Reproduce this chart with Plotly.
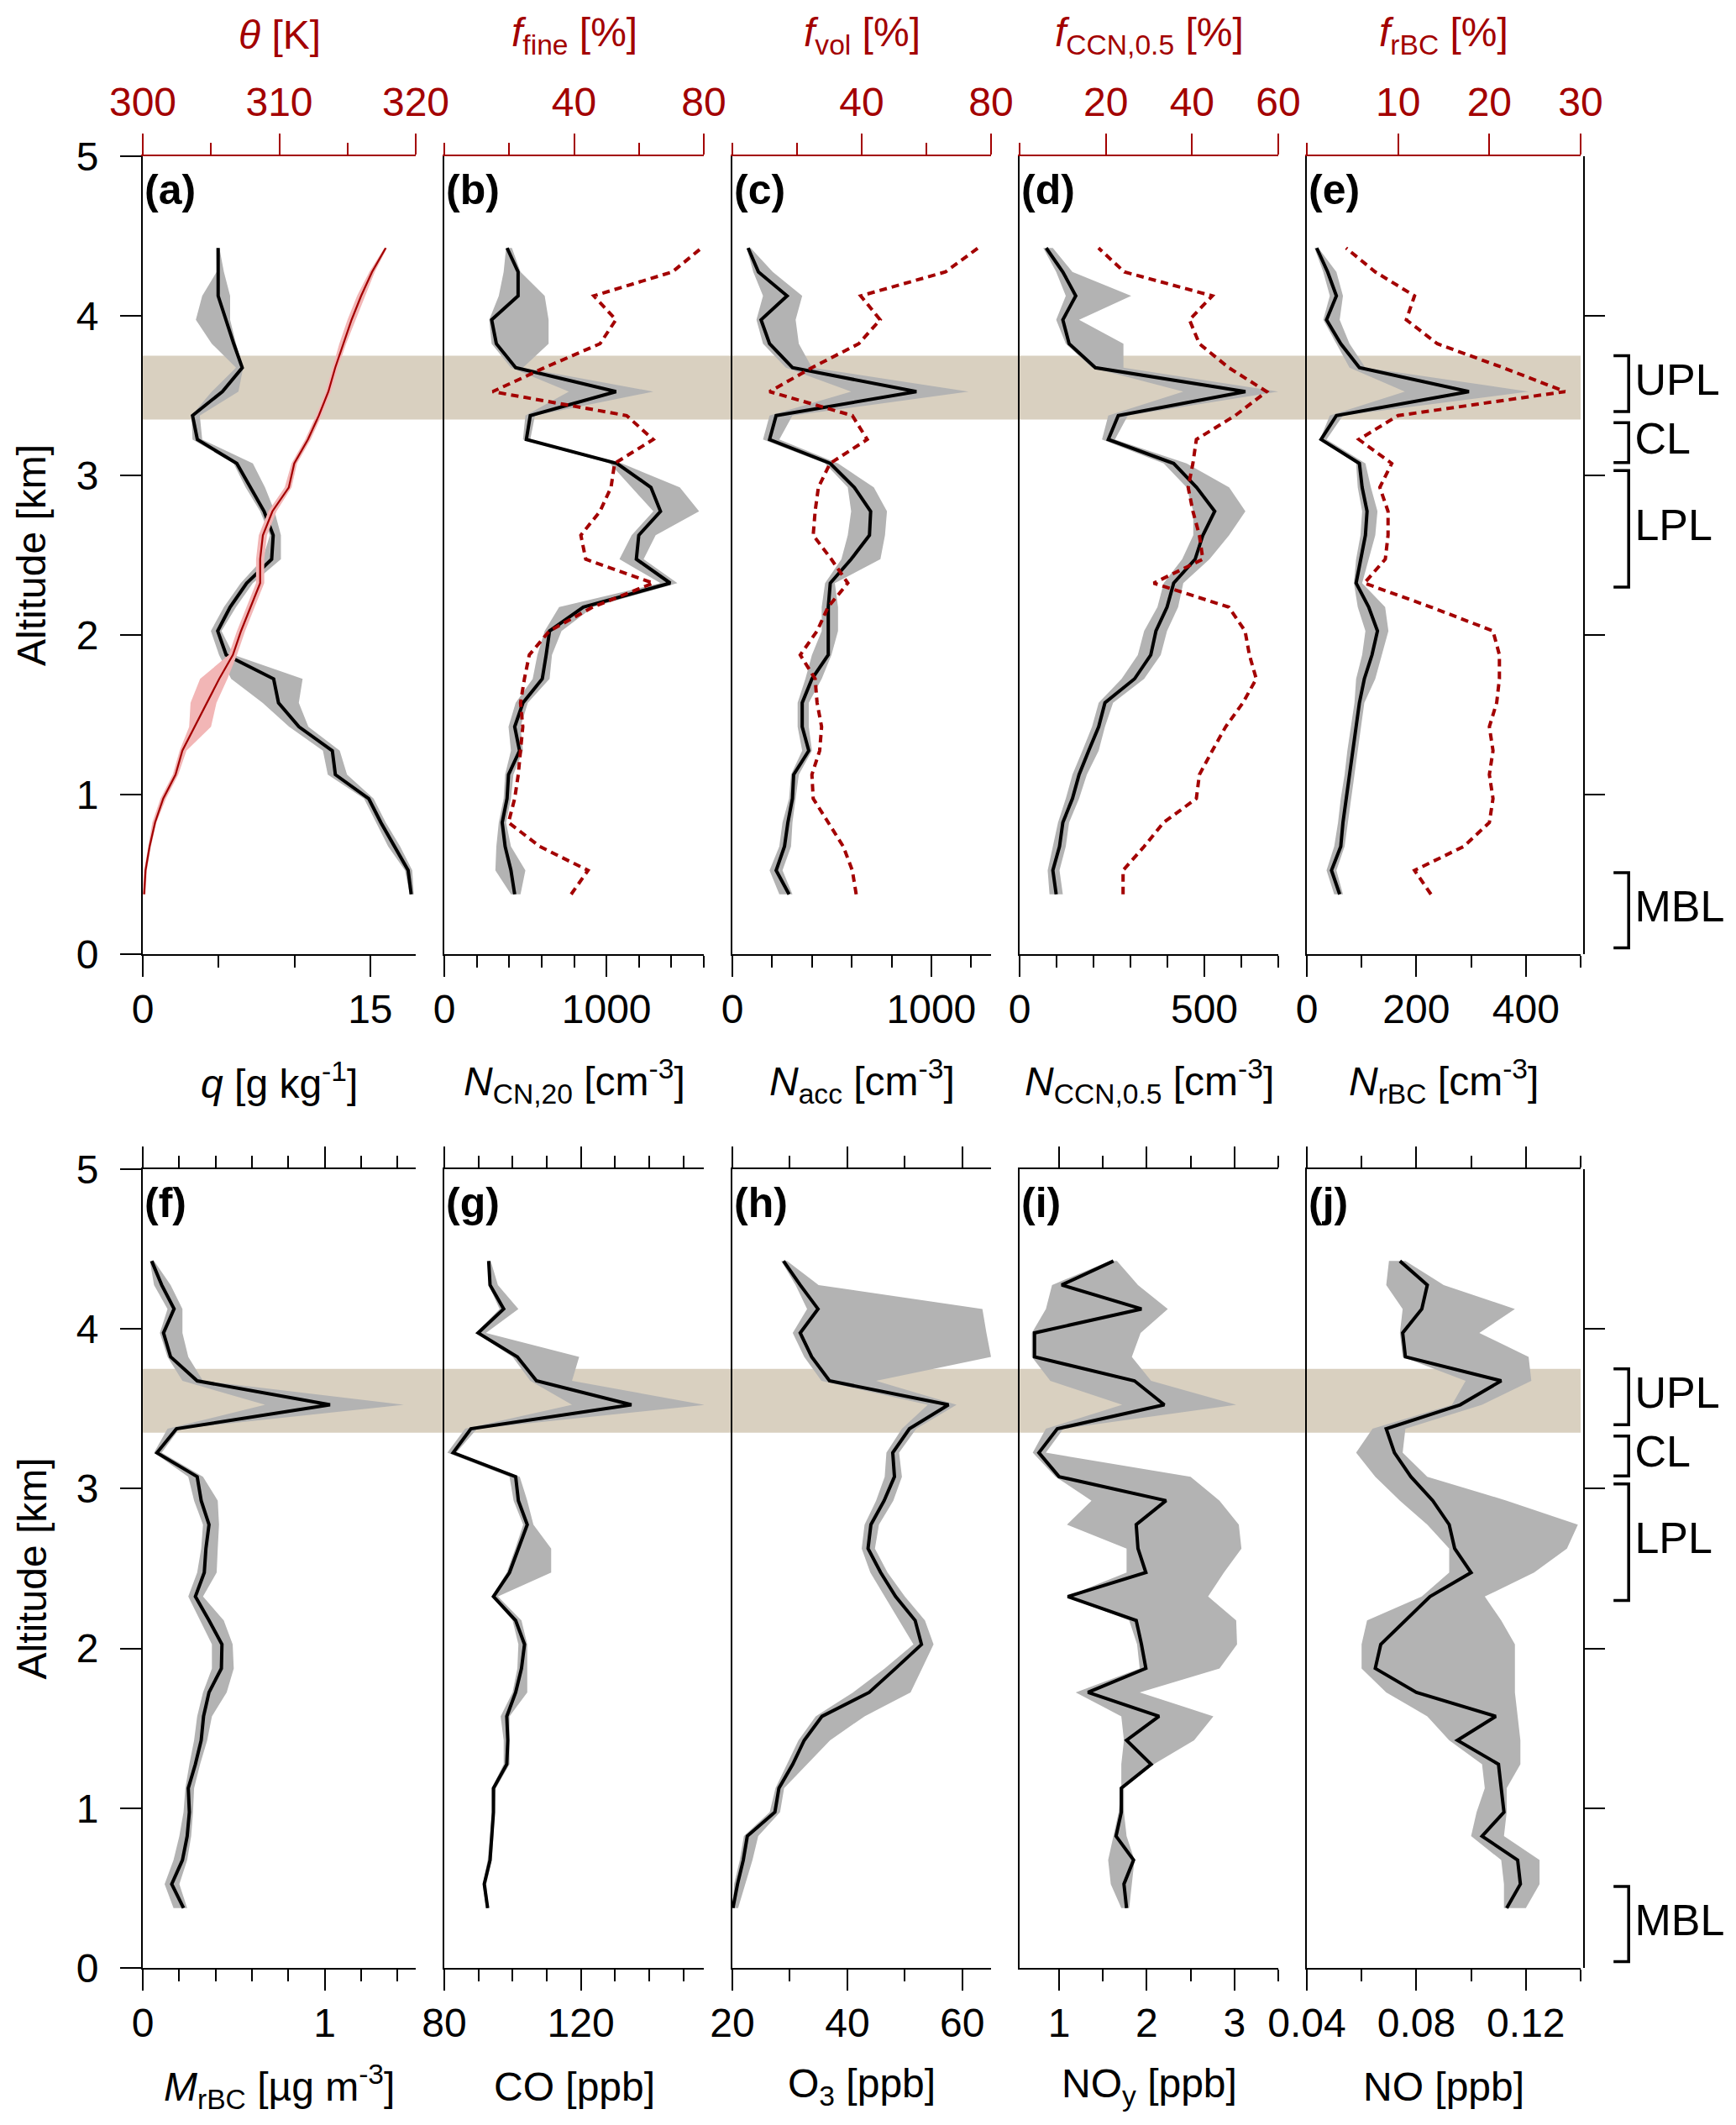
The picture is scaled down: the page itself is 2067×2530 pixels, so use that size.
import plotly.graph_objects as go

PAGE_W, PAGE_H = 2067, 2530
BODY = 8  # default page margin around the plot div
FIG_W, FIG_H = PAGE_W - BODY, PAGE_H - BODY
RED = "#a30000"
GREY = "#b3b3b3"
TAN = "#d9d0c0"
PINK = "#f2b6b6"
FONT = "Liberation Sans, Arial, sans-serif"

# altitude levels [km], bottom to top
ALT = [0.375, 0.525, 0.675, 0.825, 0.975, 1.125, 1.275, 1.425, 1.575, 1.725,
       1.875, 2.025, 2.175, 2.325, 2.475, 2.625, 2.775, 2.925, 3.075, 3.225,
       3.375, 3.525, 3.675, 3.825, 3.975, 4.125, 4.275, 4.425]

# (a) specific humidity q [g/kg] and potential temperature theta [K]
Q_MED = [17.7, 17.5, 16.6, 15.7, 14.9, 12.7, 12.5, 10.3, 8.95, 8.63, 5.5, 4.94, 5.76, 6.85,
         8.5, 8.6, 8.0, 7.1, 6.2, 3.6, 3.28, 5.25, 6.56, 6.0, 5.5, 4.97, 4.97, 4.97]
Q_LO = [17.61, 17.29, 16.18, 15.38, 14.59, 12.2, 11.88, 9.65, 7.9, 5.83, 5.03, 4.49, 5.35, 6.46,
        7.9, 8.38, 7.74, 6.78, 5.99, 3.28, 3.22, 4.55, 6.15, 4.55, 3.5, 3.92, 4.87, 4.85]
Q_HI = [17.87, 17.77, 16.97, 16.02, 15.22, 13.47, 12.99, 10.92, 10.29, 10.54, 5.99, 5.19, 6.15, 7.26,
        9.11, 9.11, 8.69, 8.06, 7.26, 3.92, 3.76, 6.31, 6.62, 6.15, 5.76, 5.76, 5.35, 5.05]
THETA_MED = [300.1, 300.2, 300.5, 300.9, 301.5, 302.4, 302.9, 303.8, 304.7, 305.6, 306.6, 307.2, 307.9, 308.6,
             308.6, 308.8, 309.5, 310.7, 311.1, 312.1, 312.9, 313.6, 314.1, 314.7, 315.3, 316.0, 316.8, 317.8]
THETA_LO = [300.0, 300.1, 300.4, 300.7, 301.3, 302.2, 302.7, 303.4, 303.5, 304.2, 306.3, 306.9, 307.6, 308.3,
            308.3, 308.5, 309.2, 310.4, 310.9, 311.9, 312.7, 313.4, 313.9, 314.4, 315.0, 315.7, 316.6, 317.7]
THETA_HI = [300.2, 300.3, 300.6, 301.0, 301.7, 302.6, 303.2, 305.0, 305.4, 306.2, 306.9, 307.5, 308.2, 308.9,
            308.9, 309.1, 309.8, 310.9, 311.3, 312.3, 313.1, 313.8, 314.3, 314.9, 315.6, 316.3, 317.0, 317.9]

# (b) N_CN,20 [cm-3] and f_fine [%]
NCN_MED = [434, 411, 375, 357, 387, 396, 464, 434, 485, 604, 628, 649, 857, 1393,
           1184, 1199, 1333, 1274, 1065, 506, 530, 1059, 440, 321, 292, 455, 455, 387]
NCN_LO = [411, 315, 321, 336, 366, 375, 411, 396, 440, 545, 574, 619, 708, 1333,
          1080, 1155, 1289, 1155, 1021, 485, 500, 768, 411, 292, 277, 336, 366, 381]
NCN_HI = [470, 500, 411, 381, 411, 426, 485, 470, 515, 649, 664, 723, 917, 1437,
          1229, 1303, 1571, 1452, 1095, 530, 559, 1289, 485, 643, 643, 619, 470, 417]
F_FINE = [39.1, 44.3, 29.4, 19.8, 21.7, 22.8, 23.5, 24.2, 23.5, 24.7, 26.2, 32.4, 45.8, 64.4,
          43.6, 42.1, 48.0, 51.4, 52.5, 64.4, 56.2, 14.9, 30.9, 48.0, 52.9, 46.1, 70.3, 79.3]

# (c) N_acc [cm-3] and f_vol [%]
NACC_MED = [285, 220, 262, 279, 302, 308, 384, 351, 351, 400, 482, 482, 482, 492,
            597, 689, 695, 613, 492, 187, 220, 925, 302, 187, 144, 275, 131, 79]
NACC_LO = [236, 187, 236, 252, 285, 295, 351, 328, 328, 367, 400, 449, 449, 466,
           548, 580, 597, 580, 466, 154, 187, 597, 269, 154, 121, 154, 105, 72]
NACC_HI = [302, 252, 295, 302, 318, 334, 400, 384, 384, 449, 498, 531, 531, 515,
           744, 767, 777, 711, 531, 236, 302, 1187, 400, 334, 318, 351, 203, 92]
F_VOL = [38.3, 37.1, 34.3, 29.6, 25.0, 24.6, 27.0, 27.6, 26.2, 25.6, 21.0, 26.2, 29.6, 35.7,
         30.6, 25.0, 25.6, 26.6, 30.2, 41.7, 37.1, 11.5, 24.6, 39.1, 45.7, 39.7, 65.9, 76.0]

# (d) N_CCN,0.5 [cm-3] and f_CCN,0.5 [%]
NCCN_MED = [99, 90, 108, 117, 143, 161, 187, 214, 231, 311, 355, 369, 399, 417,
            475, 496, 528, 479, 417, 240, 267, 611, 205, 134, 117, 152, 117, 72]
NCCN_LO = [81, 76, 90, 104, 125, 143, 170, 196, 214, 276, 320, 337, 373, 390,
           440, 470, 470, 452, 390, 223, 240, 443, 196, 125, 99, 125, 99, 64]
NCCN_HI = [117, 108, 125, 134, 161, 182, 214, 231, 253, 337, 382, 399, 429, 443,
           514, 567, 611, 567, 452, 258, 293, 700, 281, 281, 161, 302, 143, 90]
F_CCN = [24.0, 24.0, 28.9, 33.4, 41.0, 41.7, 44.7, 47.8, 51.8, 54.9, 53.3, 52.3, 48.5, 31.1,
         42.5, 41.7, 40.2, 39.1, 40.2, 41.0, 50.0, 57.3, 48.5, 41.7, 39.4, 44.7, 24.3, 18.3]

# (e) N_rBC [cm-3] and f_rBC [%]
NRBC_MED = [60, 45, 62, 66, 72, 78, 84, 90, 96, 105, 119, 129, 113, 90,
            98, 107, 110, 101, 96, 26, 54, 296, 96, 62, 36, 54, 38, 18]
NRBC_LO = [50, 36, 50, 57, 62, 69, 74, 81, 87, 90, 101, 107, 93, 86,
           90, 98, 101, 93, 90, 24, 42, 179, 78, 54, 30, 42, 30, 14]
NRBC_HI = [66, 54, 69, 74, 81, 86, 93, 99, 105, 125, 137, 149, 143, 101,
           113, 125, 129, 117, 107, 36, 66, 405, 107, 78, 60, 66, 54, 21]
F_RBC = [13.6, 11.8, 17.2, 20.0, 20.4, 20.0, 20.4, 20.0, 20.8, 21.1, 21.1, 20.4, 13.6, 6.3,
         8.6, 8.9, 8.9, 8.0, 9.3, 5.7, 10.0, 28.3, 21.5, 14.3, 10.9, 11.8, 7.5, 4.3]

# (f) M_rBC [ug m-3]
MRBC_MED = [0.224, 0.159, 0.218, 0.244, 0.256, 0.25, 0.289, 0.321, 0.334, 0.364, 0.432, 0.435, 0.364, 0.289,
            0.338, 0.347, 0.364, 0.321, 0.299, 0.078, 0.185, 1.029, 0.299, 0.153, 0.114, 0.172, 0.104, 0.049]
MRBC_LO = [0.169, 0.12, 0.169, 0.201, 0.224, 0.234, 0.256, 0.282, 0.299, 0.331, 0.38, 0.38, 0.315, 0.25,
           0.299, 0.321, 0.331, 0.282, 0.25, 0.062, 0.136, 0.672, 0.218, 0.136, 0.094, 0.136, 0.062, 0.039]
MRBC_HI = [0.244, 0.201, 0.244, 0.266, 0.276, 0.282, 0.315, 0.354, 0.38, 0.461, 0.5, 0.494, 0.445, 0.331,
           0.406, 0.412, 0.419, 0.412, 0.331, 0.104, 0.201, 1.435, 0.331, 0.25, 0.218, 0.218, 0.153, 0.062]

# (g) CO [ppb]
CO_MED = [92.7, 91.7, 93.4, 93.9, 94.4, 94.4, 98.3, 98.6, 98.3, 100.9, 102.6, 103.5, 100.9, 94.4,
          99.1, 101.7, 104.3, 101.7, 100.9, 82.6, 87.8, 134.8, 107.0, 101.4, 89.9, 97.4, 93.4, 93.0]
CO_LO = [92.2, 91.3, 92.7, 93.4, 93.9, 93.9, 97.4, 97.4, 96.5, 100.0, 101.4, 101.7, 100.0, 93.9,
         98.3, 100.8, 103.1, 100.3, 99.1, 80.9, 86.1, 117.4, 105.2, 100.0, 89.2, 96.2, 93.0, 92.7]
CO_HI = [93.0, 92.3, 93.9, 94.4, 94.8, 95.1, 99.1, 99.1, 99.1, 104.3, 104.3, 104.3, 102.6, 95.7,
         111.3, 111.3, 106.1, 104.3, 102.1, 83.5, 89.6, 156.2, 117.4, 119.5, 92.2, 101.7, 95.7, 93.6]

# (h) O3 [ppb]
O3_MED = [20.1, 20.9, 21.9, 22.6, 27.4, 28.1, 30.5, 32.5, 35.6, 43.8, 48.4, 52.9, 51.8, 48.4,
          45.8, 43.6, 44.1, 46.4, 48.2, 47.9, 50.8, 57.6, 36.9, 33.8, 31.8, 34.9, 31.8, 28.9]
O3_LO = [20.0, 20.3, 21.3, 22.0, 26.5, 27.5, 29.5, 31.5, 34.5, 41.0, 46.5, 51.5, 49.0, 46.5,
         44.0, 42.5, 43.0, 45.0, 46.5, 46.8, 49.5, 54.0, 35.5, 32.5, 30.5, 33.0, 31.0, 28.5]
O3_HI = [21.0, 22.2, 23.5, 24.5, 28.3, 29.0, 33.0, 37.0, 43.0, 51.0, 53.0, 55.0, 53.5, 50.0,
         47.0, 44.8, 45.5, 48.0, 49.5, 49.0, 52.0, 59.0, 45.0, 65.0, 64.2, 63.5, 35.0, 29.5]

# (i) NOy [ppb]
NOY_MED = [1.77, 1.74, 1.85, 1.65, 1.71, 1.71, 2.05, 1.77, 2.14, 1.33, 1.99, 1.94, 1.88, 1.10,
           1.99, 1.90, 1.88, 2.22, 1.00, 0.77, 0.98, 2.20, 1.86, 0.72, 0.72, 1.94, 1.03, 1.62]
NOY_LO = [1.71, 1.59, 1.56, 1.62, 1.68, 1.71, 1.71, 1.74, 1.71, 1.19, 1.92, 1.89, 1.80, 1.09,
          1.77, 1.77, 1.09, 1.37, 0.96, 0.70, 0.85, 1.72, 0.90, 0.69, 0.69, 0.85, 0.92, 1.58]
NOY_HI = [1.80, 1.83, 1.86, 1.77, 1.74, 1.74, 2.08, 2.54, 2.76, 1.92, 2.83, 3.03, 3.02, 2.70,
          2.88, 3.08, 3.05, 2.83, 2.50, 0.85, 1.05, 3.02, 2.05, 1.83, 1.93, 2.24, 1.90, 1.66]

# (j) NO [ppb]
NO_MED = [0.113, 0.118, 0.117, 0.104, 0.112, 0.111, 0.110, 0.095, 0.109, 0.080, 0.065, 0.067, 0.076, 0.085,
          0.100, 0.094, 0.092, 0.086, 0.078, 0.072, 0.069, 0.096, 0.111, 0.076, 0.075, 0.082, 0.084, 0.074]
NO_LO = [0.112, 0.112, 0.111, 0.100, 0.102, 0.105, 0.104, 0.092, 0.084, 0.069, 0.060, 0.060, 0.062, 0.082,
         0.092, 0.092, 0.084, 0.074, 0.065, 0.058, 0.064, 0.093, 0.098, 0.075, 0.074, 0.075, 0.069, 0.070]
NO_HI = [0.120, 0.125, 0.125, 0.112, 0.113, 0.113, 0.118, 0.118, 0.117, 0.116, 0.116, 0.116, 0.111, 0.105,
         0.123, 0.135, 0.139, 0.113, 0.084, 0.075, 0.076, 0.104, 0.122, 0.121, 0.103, 0.116, 0.090, 0.076]

# layer bands / brackets [km]
BAND = [3.35, 3.75]
LAYER_NAMES = ["UPL", "CL", "LPL", "MBL"]
LAYER_BOTTOM = [3.40, 3.08, 2.30, 0.04]
LAYER_TOP = [3.75, 3.33, 3.03, 0.51]

PANELS = [
    dict(tag="(a)", med=Q_MED, lo=Q_LO, hi=Q_HI, rng=[0, 18], tv=[0, 15], minor=5,
         title="<i>q</i> [g kg<sup>-1</sup>]"),
    dict(tag="(b)", med=NCN_MED, lo=NCN_LO, hi=NCN_HI, rng=[0, 1600], tv=[0, 1000], minor=200,
         title="<i>N</i><sub>CN,20</sub> [cm<sup>-3</sup>]"),
    dict(tag="(c)", med=NACC_MED, lo=NACC_LO, hi=NACC_HI, rng=[0, 1300], tv=[0, 1000], minor=200,
         title="<i>N</i><sub>acc</sub> [cm<sup>-3</sup>]"),
    dict(tag="(d)", med=NCCN_MED, lo=NCCN_LO, hi=NCCN_HI, rng=[0, 700], tv=[0, 500], minor=100,
         title="<i>N</i><sub>CCN,0.5</sub> [cm<sup>-3</sup>]"),
    dict(tag="(e)", med=NRBC_MED, lo=NRBC_LO, hi=NRBC_HI, rng=[0, 500], tv=[0, 200, 400], minor=100,
         title="<i>N</i><sub>rBC</sub> [cm<sup>-3</sup>]"),
    dict(tag="(f)", med=MRBC_MED, lo=MRBC_LO, hi=MRBC_HI, rng=[0, 1.5], tv=[0, 1], minor=0.2,
         title="<i>M</i><sub>rBC</sub> [µg m<sup>-3</sup>]"),
    dict(tag="(g)", med=CO_MED, lo=CO_LO, hi=CO_HI, rng=[80, 156], tv=[80, 120], minor=10,
         title="CO [ppb]"),
    dict(tag="(h)", med=O3_MED, lo=O3_LO, hi=O3_HI, rng=[20, 65], tv=[20, 40, 60], minor=10,
         title="O<sub>3</sub> [ppb]"),
    dict(tag="(i)", med=NOY_MED, lo=NOY_LO, hi=NOY_HI, rng=[0.55, 3.5], tv=[1, 2, 3], minor=0.5,
         title="NO<sub>y</sub> [ppb]"),
    dict(tag="(j)", med=NO_MED, lo=NO_LO, hi=NO_HI, rng=[0.04, 0.14], tv=[0.04, 0.08, 0.12], minor=0.02,
         title="NO [ppb]"),
]

TOP = [
    dict(vals=THETA_MED, rng=[300, 320], tv=[300, 310, 320], minor=5, title="<i>θ</i> [K]"),
    dict(vals=F_FINE, rng=[0, 80], tv=[40, 80], minor=20, title="<i>f</i><sub>fine</sub> [%]"),
    dict(vals=F_VOL, rng=[0, 80], tv=[40, 80], minor=20, title="<i>f</i><sub>vol</sub> [%]"),
    dict(vals=F_CCN, rng=[0, 60], tv=[20, 40, 60], minor=20, title="<i>f</i><sub>CCN,0.5</sub> [%]"),
    dict(vals=F_RBC, rng=[0, 30], tv=[10, 20, 30], minor=10, title="<i>f</i><sub>rBC</sub> [%]"),
]

# page geometry in pixels (page coordinates)
COL_PX = [(170, 495), (529, 838), (872, 1180), (1214, 1522), (1556, 1882)]
ROW_PX = [(186, 1136), (1392, 2343)]
BRACKET_PX = 1887


def px_x(p):
    return (p - BODY) / FIG_W


def px_y(p):
    return 1 - (p - BODY) / FIG_H


def ax_names(n):
    if n == 1:
        return "x", "y", "xaxis", "yaxis"
    return f"x{n}", f"y{n}", f"xaxis{n}", f"yaxis{n}"


tick_font = dict(family=FONT, size=48, color="black")
red_font = dict(family=FONT, size=48, color=RED)

fig = go.Figure()
layout = {}
annotations = []

for i, p in enumerate(PANELS):
    n = i + 1
    r, c = divmod(i, 5)
    xr, yr, xk, yk = ax_names(n)

    fig.add_trace(go.Scatter(x=p["lo"] + p["hi"][::-1], y=ALT + ALT[::-1], fill="toself",
                             fillcolor=GREY, line=dict(width=0), mode="lines",
                             xaxis=xr, yaxis=yr, hoverinfo="skip", showlegend=False))
    if n == 1:
        # theta shading + line on top axis
        fig.add_trace(go.Scatter(x=THETA_LO + THETA_HI[::-1], y=ALT + ALT[::-1], fill="toself",
                                 fillcolor=PINK, line=dict(width=0), mode="lines",
                                 xaxis="x11", yaxis=yr, hoverinfo="skip", showlegend=False))
        fig.add_trace(go.Scatter(x=THETA_MED, y=ALT, mode="lines", line=dict(color=RED, width=2.2),
                                 xaxis="x11", yaxis=yr, showlegend=False))
    fig.add_trace(go.Scatter(x=p["med"], y=ALT, mode="lines", line=dict(color="black", width=4),
                             xaxis=xr, yaxis=yr, showlegend=False))
    if 2 <= n <= 5:
        fig.add_trace(go.Scatter(x=TOP[c]["vals"], y=ALT, mode="lines",
                                 line=dict(color=RED, width=4, dash="9px,6px"),
                                 xaxis=f"x{10 + n}", yaxis=yr, showlegend=False))

    x0, x1 = COL_PX[c]
    y0, y1 = ROW_PX[r]
    layout[xk] = dict(
        domain=[px_x(x0), px_x(x1)], range=p["rng"], anchor=yr, automargin=False,
        tickvals=p["tv"], ticks="outside", ticklen=25, tickwidth=2, tickcolor="black",
        showline=True, linecolor="black", linewidth=2, showgrid=False, zeroline=False,
        mirror="ticks" if r == 1 else False, tickfont=tick_font, ticklabelstandoff=-3,
        minor=dict(dtick=p["minor"], ticks="outside", ticklen=14, tickwidth=2,
                   tickcolor="black", showgrid=False),
    )
    layout[yk] = dict(
        domain=[px_y(y1), px_y(y0)], range=[0, 5], anchor=xr, automargin=False,
        tickvals=[0, 1, 2, 3, 4, 5], ticks="outside" if c == 0 else "", ticklen=25,
        tickwidth=2, tickcolor="black", showticklabels=(c == 0), tickfont=tick_font,
        showline=True, linecolor="black", linewidth=2, showgrid=False, zeroline=False,
        ticklabelstandoff=16,
    )
    if r == 0:
        t = TOP[c]
        layout[f"xaxis{10 + n}"] = dict(
            overlaying=xr, side="top", anchor=yr, range=t["rng"], tickvals=t["tv"],
            automargin=False, ticks="outside", ticklen=25, tickwidth=2, tickcolor=RED,
            showline=True, linecolor=RED, linewidth=2, showgrid=False, zeroline=False,
            tickfont=red_font, ticklabelstandoff=2,
            minor=dict(dtick=t["minor"], ticks="outside", ticklen=14, tickwidth=2,
                       tickcolor=RED, showgrid=False),
        )
        annotations.append(dict(text=t["title"], xref=f"{xr} domain", x=0.5, yref="paper",
                                y=px_y(42), xanchor="center", yanchor="middle",
                                showarrow=False, font=red_font))
    title_y = 1287 if r == 0 else 2484
    annotations.append(dict(text=p["title"], xref=f"{xr} domain", x=0.5, yref="paper",
                            y=px_y(title_y), xanchor="center", yanchor="middle",
                            showarrow=False, font=tick_font))
    annotations.append(dict(text=f"<b>{p['tag']}</b>", xref=f"{xr} domain", x=0.0,
                            yref=f"{yr} domain", y=0.958, xanchor="left", yanchor="middle",
                            showarrow=False, font=dict(family=FONT, size=50, color="black")))

# layer brackets to the right of each row
for r in range(2):
    n = 16 + r
    xr, yr = f"x{n}", f"y{n}"
    y0, y1 = ROW_PX[r]
    layout[f"xaxis{n}"] = dict(domain=[px_x(BRACKET_PX), 1.0], range=[0, 1], anchor=yr,
                               visible=False, automargin=False)
    layout[f"yaxis{n}"] = dict(domain=[px_y(y1), px_y(y0)], range=[0, 5], anchor=xr,
                               side="left", tickvals=[0, 1, 2, 3, 4, 5], ticks="inside",
                               ticklen=24, tickwidth=2, tickcolor="black", automargin=False,
                               showticklabels=False, showline=True, linecolor="black",
                               linewidth=2, showgrid=False, zeroline=False)
    for name, lo, hi in zip(LAYER_NAMES, LAYER_BOTTOM, LAYER_TOP):
        fig.add_trace(go.Scatter(x=[0.19, 0.29, 0.29, 0.19], y=[hi, hi, lo, lo], mode="lines",
                                 line=dict(color="black", width=3.5), xaxis=xr, yaxis=yr,
                                 showlegend=False, hoverinfo="skip"))
        fig.add_trace(go.Scatter(x=[0.33], y=[(lo + hi) / 2], mode="text", text=[name],
                                 textposition="middle right", cliponaxis=False,
                                 textfont=dict(family=FONT, size=52, color="black"),
                                 xaxis=xr, yaxis=yr, showlegend=False, hoverinfo="skip"))

# altitude titles
for r in range(2):
    y0, y1 = ROW_PX[r]
    annotations.append(dict(text="Altitude [km]", xref="paper", x=px_x(38), yref="paper",
                            y=px_y((y0 + y1) / 2), textangle=-90, xanchor="center",
                            yanchor="middle", showarrow=False, font=tick_font))

shapes = []
for yr in ["y", "y6"]:
    shapes.append(dict(type="rect", xref="paper", yref=yr, x0=px_x(COL_PX[0][0]),
                       x1=px_x(COL_PX[-1][1]), y0=BAND[0], y1=BAND[1], fillcolor=TAN,
                       line=dict(width=0), layer="below"))

fig.update_layout(
    width=FIG_W, height=FIG_H,
    margin=dict(l=0, r=0, t=0, b=0, pad=0, autoexpand=False),
    paper_bgcolor="white", plot_bgcolor="rgba(0,0,0,0)",
    font=dict(family=FONT, size=48, color="black"),
    showlegend=False, annotations=annotations, shapes=shapes,
    **layout,
)

fig.write_html("out.html")
